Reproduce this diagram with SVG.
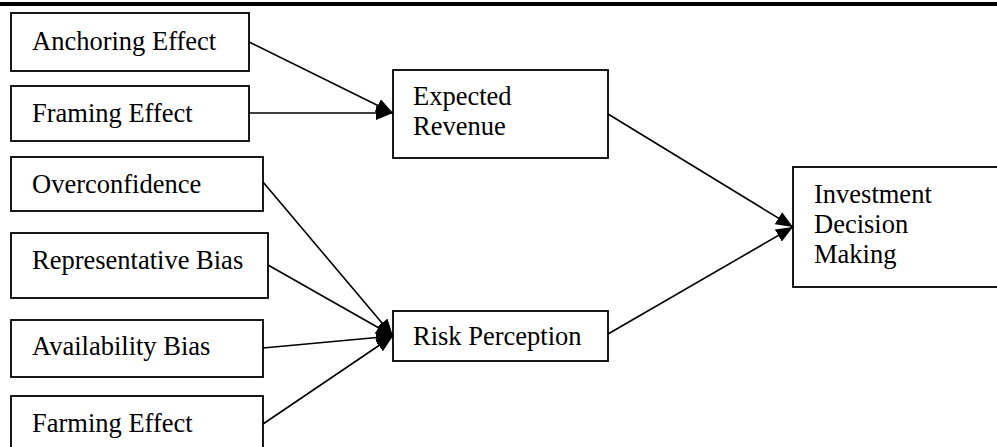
<svg xmlns="http://www.w3.org/2000/svg" width="997" height="447" viewBox="0 0 997 447">
  <style>
    .box { fill: #fff; stroke: #000; stroke-width: 1.8; }
    .lbl { font-family: "Liberation Serif", "Times New Roman", serif; font-size: 26.5px; fill: #000; }
    .conn { stroke: #000; stroke-width: 1.6; fill: none; marker-end: url(#arrow); }
  </style>
  <defs>
    <marker id="arrow" markerUnits="userSpaceOnUse" markerWidth="17" markerHeight="14" refX="17" refY="7" orient="auto">
      <path d="M0,0 L17,7 L0,14 z" fill="#000"/>
    </marker>
  </defs>
  <rect width="997" height="447" fill="#fff"/>
  <rect id="top-rule" x="0" y="2" width="997" height="4" fill="#000"/>

  <g id="connectors">
    <line class="conn" x1="249" y1="42" x2="393" y2="113"/>
    <line class="conn" x1="249" y1="113" x2="393" y2="113"/>
    <line class="conn" x1="263" y1="182" x2="393" y2="336"/>
    <line class="conn" x1="268" y1="265" x2="393" y2="336"/>
    <line class="conn" x1="263" y1="348" x2="393" y2="336"/>
    <line class="conn" x1="263" y1="424" x2="393" y2="336"/>
    <line class="conn" x1="608" y1="114" x2="793" y2="227"/>
    <line class="conn" x1="608" y1="334" x2="793" y2="227"/>
  </g>

  <g id="anchoring">
    <rect class="box" x="11" y="13" width="238" height="58"/>
    <text class="lbl" x="32" y="50">Anchoring Effect</text>
  </g>
  <g id="framing">
    <rect class="box" x="11" y="86" width="238" height="55"/>
    <text class="lbl" x="32" y="122">Framing Effect</text>
  </g>
  <g id="overconfidence">
    <rect class="box" x="11" y="157" width="252" height="54"/>
    <text class="lbl" x="32" y="193">Overconfidence</text>
  </g>
  <g id="representative">
    <rect class="box" x="11" y="233" width="257" height="65"/>
    <text class="lbl" x="32" y="269">Representative Bias</text>
  </g>
  <g id="availability">
    <rect class="box" x="11" y="320" width="252" height="57"/>
    <text class="lbl" x="32" y="355">Availability Bias</text>
  </g>
  <g id="farming">
    <rect class="box" x="11" y="396" width="252" height="62"/>
    <text class="lbl" x="32" y="432">Farming Effect</text>
  </g>
  <g id="expected-revenue">
    <rect class="box" x="393" y="70" width="215" height="88"/>
    <text class="lbl" x="413" y="105">Expected</text>
    <text class="lbl" x="413" y="135">Revenue</text>
  </g>
  <g id="risk-perception">
    <rect class="box" x="393" y="311" width="215" height="50"/>
    <text class="lbl" x="413" y="345">Risk Perception</text>
  </g>
  <g id="investment">
    <rect class="box" x="793" y="167" width="220" height="120"/>
    <text class="lbl" x="814" y="203">Investment</text>
    <text class="lbl" x="814" y="233">Decision</text>
    <text class="lbl" x="814" y="263">Making</text>
  </g>
</svg>
